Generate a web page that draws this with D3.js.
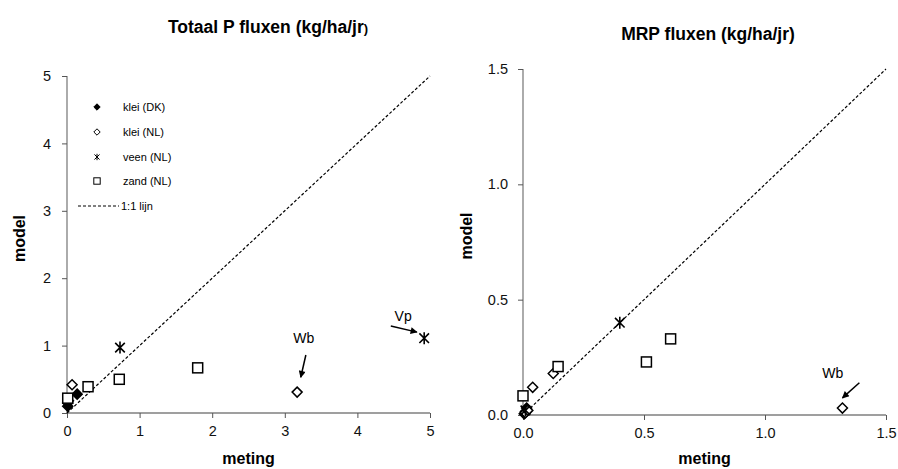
<!DOCTYPE html>
<html>
<head>
<meta charset="utf-8">
<script src="https://cdn.jsdelivr.net/npm/d3@7"></script>
<style>
  body { margin: 0; background: #fff; }
  svg { font-family: "Liberation Sans", Arial, sans-serif; }
</style>
</head>
<body>
<svg width="898" height="469"></svg>
<script>
// ---- data (meting, model) ----
const seriesNames = ["klei (DK)", "klei (NL)", "veen (NL)", "zand (NL)"];

const totKleiDK = [[0.01, 0.10], [0.01, 0.15], [0.02, 0.18], [0.14, 0.28]];
const totKleiNL = [[0.07, 0.42], [3.17, 0.31]];
const totVeen   = [[0.73, 0.97], [4.92, 1.11]];
const totZand   = [[0.01, 0.22], [0.29, 0.39], [0.72, 0.50], [1.80, 0.67]];

const mrpKleiDK = [[0.005, 0.005], [0.01, 0.015], [0.015, 0.03]];
const mrpKleiNL = [[0.01, 0.01], [0.02, 0.02], [0.04, 0.12], [0.125, 0.18], [1.32, 0.03]];
const mrpVeen   = [[0.01, 0.02], [0.40, 0.40]];
const mrpZand   = [[0.0, 0.083], [0.145, 0.21], [0.51, 0.23], [0.61, 0.33]];

const totTicks = [0, 1, 2, 3, 4, 5];
const mrpTicks = [0, 0.5, 1.0, 1.5];

// annotations in data units
const totArrows = [
  { label: "Wb", tx: 3.26, ty: 1.04, from: [3.29, 0.86], to: [3.22, 0.53] },
  { label: "Vp", tx: 4.63, ty: 1.36, from: [4.46, 1.29], to: [4.82, 1.20] }
];
const mrpArrows = [
  { label: "Wb", tx: 1.28, ty: 0.16, from: [1.39, 0.14], to: [1.32, 0.074] }
];

const svg = d3.select("svg");

svg.append("defs").append("marker")
  .attr("id", "arrowhead")
  .attr("viewBox", "0 0 10 10")
  .attr("refX", 9).attr("refY", 5)
  .attr("markerWidth", 9).attr("markerHeight", 7)
  .attr("markerUnits", "userSpaceOnUse")
  .attr("orient", "auto")
  .append("path")
  .attr("d", "M0,0 L10,5 L0,10 z")
  .attr("fill", "#000");

// marker: 0 filled diamond, 1 open diamond, 2 asterisk, 3 open square
function drawMarker(sel, kind, r) {
  if (kind === 0 || kind === 1) {
    sel.append("path")
      .attr("d", `M0,${-r} L${r},0 L0,${r} L${-r},0 Z`)
      .attr("fill", kind === 0 ? "#000" : "#fff")
      .attr("stroke", "#000").attr("stroke-width", 1.5);
  } else if (kind === 2) {
    const a = r * 0.8;
    sel.append("path")
      .attr("d", `M${-a},${-a} L${a},${a} M${-a},${a} L${a},${-a} M0,${-r} L0,${r}`)
      .attr("stroke", "#000").attr("stroke-width", 1.6).attr("fill", "none");
  } else {
    sel.append("rect")
      .attr("x", -r).attr("y", -r).attr("width", 2 * r).attr("height", 2 * r)
      .attr("fill", "#fff").attr("stroke", "#000").attr("stroke-width", 1.5);
  }
}

function panel(cfg) {
  const x = d3.scaleLinear().domain([0, cfg.max]).range([cfg.x0, cfg.x1]);
  const y = d3.scaleLinear().domain([0, cfg.max]).range([cfg.y0, cfg.y1]);
  const g = svg.append("g");

  // title
  const t = g.append("text")
    .attr("x", cfg.titleX).attr("y", cfg.titleY)
    .attr("text-anchor", "middle")
    .attr("font-size", 17.5).attr("font-weight", "bold")
    .text(cfg.title);
  if (cfg.smallParen) t.append("tspan").attr("font-size", 13).text(")");

  // axes
  const xAxis = g.append("g")
    .attr("transform", `translate(0,${cfg.y0})`)
    .call(d3.axisBottom(x).tickValues(cfg.ticks).tickFormat(cfg.fmt).tickSize(5).tickPadding(6));
  const yAxis = g.append("g")
    .attr("transform", `translate(${cfg.x0},0)`)
    .call(d3.axisLeft(y).tickValues(cfg.ticks).tickFormat(cfg.fmt).tickSize(5).tickPadding(cfg.yPad));
  [xAxis, yAxis].forEach(a => {
    a.select(".domain").attr("stroke", "#7f7f7f").attr("stroke-width", 1.3)
      .attr("d", a === xAxis ? `M${cfg.x0},0H${cfg.x1}` : `M0,${cfg.y0}V${cfg.y1}`);
    a.selectAll(".tick line").attr("stroke", "#555");
    a.selectAll(".tick text").attr("font-size", 14.5).attr("fill", "#111")
      .attr("font-family", "Liberation Sans, Arial, sans-serif");
  });
  xAxis.selectAll(".tick text").attr("dy", "0.8em");

  // axis labels
  g.append("text")
    .attr("x", (cfg.x0 + cfg.x1) / 2).attr("y", 464)
    .attr("text-anchor", "middle").attr("font-size", 16).attr("font-weight", "bold")
    .text("meting");
  g.append("text")
    .attr("transform", `translate(${cfg.ylabX},${(cfg.y0 + cfg.y1) / 2 - 6}) rotate(-90)`)
    .attr("text-anchor", "middle").attr("font-size", 16).attr("font-weight", "bold")
    .text("model");

  // 1:1 line
  g.append("line")
    .attr("x1", x(0)).attr("y1", y(0)).attr("x2", x(cfg.max)).attr("y2", y(cfg.max))
    .attr("stroke", "#000").attr("stroke-width", 1.2).attr("stroke-dasharray", "3,2");

  // points
  cfg.series.forEach((pts, k) => {
    pts.forEach(p => {
      const m = g.append("g").attr("transform", `translate(${x(p[0])},${y(p[1])})`);
      drawMarker(m, k, k === 2 ? 6 : 5);
    });
  });

  // annotations
  cfg.arrows.forEach(a => {
    g.append("line")
      .attr("x1", x(a.from[0])).attr("y1", y(a.from[1]))
      .attr("x2", x(a.to[0])).attr("y2", y(a.to[1]))
      .attr("stroke", "#000").attr("stroke-width", 1.5)
      .attr("marker-end", "url(#arrowhead)");
    g.append("text")
      .attr("x", x(a.tx)).attr("y", y(a.ty))
      .attr("text-anchor", "middle").attr("font-size", 14)
      .text(a.label);
  });
  return g;
}

panel({
  max: 5, x0: 67, x1: 430, y0: 413, y1: 76,
  ticks: totTicks, fmt: d3.format("d"), yPad: 11,
  title: "Totaal P fluxen (kg/ha/jr", smallParen: true, titleX: 268, titleY: 33,
  ylabX: 25,
  series: [totKleiDK, totKleiNL, totVeen, totZand],
  arrows: totArrows
});

panel({
  max: 1.5, x0: 523, x1: 886, y0: 415, y1: 69,
  ticks: mrpTicks, fmt: d3.format(".1f"), yPad: 10,
  title: "MRP fluxen (kg/ha/jr)", smallParen: false, titleX: 708, titleY: 40,
  ylabX: 472,
  series: [mrpKleiDK, mrpKleiNL, mrpVeen, mrpZand],
  arrows: mrpArrows
});

// legend (left panel)
const legend = svg.append("g");
const rowY = [107, 132, 157, 181];
seriesNames.forEach((name, k) => {
  const m = legend.append("g").attr("transform", `translate(97,${rowY[k]})`);
  drawMarker(m, k, 3.2);
  m.selectAll("path,rect").attr("stroke-width", 1);
  legend.append("text")
    .attr("x", 123).attr("y", rowY[k] + 4)
    .attr("font-size", 11).text(name);
});
legend.append("line")
  .attr("x1", 78).attr("x2", 119).attr("y1", 206).attr("y2", 206)
  .attr("stroke", "#000").attr("stroke-width", 1).attr("stroke-dasharray", "3,2");
legend.append("text")
  .attr("x", 121).attr("y", 210).attr("font-size", 11).text("1:1 lijn");
</script>
</body>
</html>
